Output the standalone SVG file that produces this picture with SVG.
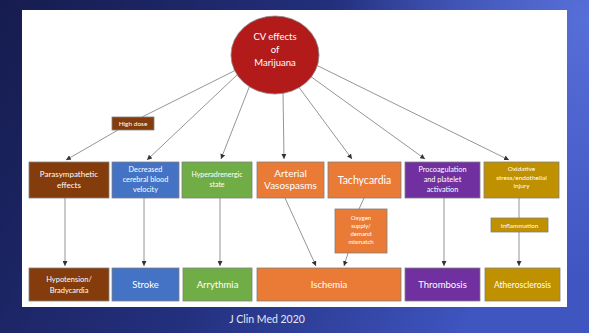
<svg xmlns="http://www.w3.org/2000/svg" width="589" height="333" viewBox="0 0 589 333">
<defs>
<linearGradient id="bg" x1="0" y1="0" x2="1" y2="0.3">
<stop offset="0" stop-color="#161c4e"/>
<stop offset="0.55" stop-color="#23307e"/>
<stop offset="1" stop-color="#3f55c0"/>
</linearGradient>
<radialGradient id="glow" cx="589" cy="20" r="260" gradientUnits="userSpaceOnUse">
<stop offset="0" stop-color="#5a72dc" stop-opacity="0.9"/>
<stop offset="1" stop-color="#5a72dc" stop-opacity="0"/>
</radialGradient>
<marker id="ah" viewBox="0 0 6 6" refX="6" refY="3" markerWidth="5" markerHeight="5" orient="auto" markerUnits="userSpaceOnUse">
<path d="M0,0 L6,3 L0,6 z" fill="#333"/>
</marker>
<style>
.box{stroke:#808080;stroke-width:0.8}
.br{fill:#843c0c}.bl{fill:#4472c4}.gr{fill:#70ad47}.or{fill:#e97b36}.pu{fill:#7030a0}.go{fill:#bf9000}
text{font-family:Lato,"Liberation Sans",sans-serif;fill:#fff;text-anchor:middle}
.c line{stroke:#7a7a7a;stroke-width:0.8}
.c .a{marker-end:url(#ah)}
</style>
</defs>
<rect width="589" height="333" fill="url(#bg)"/>
<rect width="589" height="333" fill="url(#glow)"/>
<rect x="22" y="10" width="545" height="297" fill="#fff"/>

<g id="connectors" class="c">
<line x1="236" y1="70" x2="142" y2="117"/>
<line class="a" x1="118" y1="130" x2="66" y2="160"/>
<line class="a" x1="238" y1="74" x2="147" y2="160"/>
<line class="a" x1="250" y1="85" x2="221" y2="159"/>
<line class="a" x1="283" y1="92" x2="284" y2="159"/>
<line class="a" x1="298" y1="86" x2="352" y2="159"/>
<line class="a" x1="310" y1="76" x2="425" y2="159"/>
<line class="a" x1="314" y1="64" x2="509" y2="160"/>
<line class="a" x1="65" y1="198" x2="65" y2="266"/>
<line class="a" x1="144" y1="198" x2="144" y2="266"/>
<line class="a" x1="220" y1="198" x2="220" y2="266"/>
<line class="a" x1="285" y1="198" x2="316" y2="266"/>
<line x1="364" y1="198" x2="359" y2="209"/>
<line class="a" x1="348" y1="253" x2="344" y2="266"/>
<line class="a" x1="444" y1="198" x2="444" y2="266"/>
<line x1="519" y1="198" x2="519" y2="218"/>
<line class="a" x1="519" y1="232" x2="519" y2="266"/>
</g>

<g id="cv">
<ellipse cx="275" cy="55" rx="44" ry="39" fill="#b31b1b" stroke="#888" stroke-width="0.8"/>
<text font-size="9.5" x="275" y="40">CV effects</text>
<text font-size="9.5" x="275" y="53">of</text>
<text font-size="9.5" x="275" y="66">Marijuana</text>
</g>

<g id="highdose">
<rect class="box br" x="112" y="117" width="42" height="13"/>
<text font-size="6.5" x="133" y="126">High dose</text>
</g>

<g id="para">
<rect class="box br" x="29" y="162" width="80" height="36"/>
<text font-size="8" x="69" y="177">Parasympathetic</text>
<text font-size="8" x="69" y="188">effects</text>
</g>
<g id="decr">
<rect class="box bl" x="112" y="162" width="67" height="36"/>
<text font-size="7.3" x="145.5" y="172">Decreased</text>
<text font-size="7.3" x="145.5" y="182">cerebral blood</text>
<text font-size="7.3" x="145.5" y="192">velocity</text>
</g>
<g id="hyper">
<rect class="box gr" x="182" y="162" width="70" height="36"/>
<text font-size="7" x="217" y="177">Hyperadrenergic</text>
<text font-size="7" x="217" y="187">state</text>
</g>
<g id="arter">
<rect class="box or" x="257" y="162" width="67" height="36"/>
<text font-size="10" x="290.5" y="177">Arterial</text>
<text font-size="10" x="290.5" y="189">Vasospasms</text>
</g>
<g id="tachy">
<rect class="box or" x="328" y="162" width="73" height="36"/>
<text font-size="10.5" x="364.5" y="184">Tachycardia</text>
</g>
<g id="proco">
<rect class="box pu" x="405" y="162" width="75" height="36"/>
<text font-size="7.3" x="442.5" y="172">Procoagulation</text>
<text font-size="7.3" x="442.5" y="182">and platelet</text>
<text font-size="7.3" x="442.5" y="192">activation</text>
</g>
<g id="oxid">
<rect class="box go" x="484" y="162" width="75" height="36"/>
<text font-size="6.5" x="521.5" y="171">Oxidative</text>
<text font-size="6.5" x="521.5" y="179.5">stress/endothelial</text>
<text font-size="6.5" x="521.5" y="188">injury</text>
</g>

<g id="oxygen">
<rect class="box or" x="335" y="209" width="52" height="44"/>
<text font-size="6" x="361" y="220">Oxygen</text>
<text font-size="6" x="361" y="228">supply/</text>
<text font-size="6" x="361" y="236">demand</text>
<text font-size="6" x="361" y="244">mismatch</text>
</g>
<g id="inflam">
<rect class="box go" x="491" y="218" width="57" height="14"/>
<text font-size="6.5" x="519.5" y="227.5">Inflammation</text>
</g>

<g id="hypo">
<rect class="box br" x="29" y="268" width="80" height="33"/>
<text font-size="7.5" x="69" y="282">Hypotension/</text>
<text font-size="7.5" x="69" y="293">Bradycardia</text>
</g>
<g id="stroke">
<rect class="box bl" x="112" y="268" width="67" height="33"/>
<text font-size="9.5" x="145.5" y="288">Stroke</text>
</g>
<g id="arry">
<rect class="box gr" x="183" y="268" width="69" height="33"/>
<text font-size="9.5" x="217.5" y="288">Arrythmia</text>
</g>
<g id="isch">
<rect class="box or" x="257" y="268" width="144" height="33"/>
<text font-size="9.5" x="329" y="288">Ischemia</text>
</g>
<g id="thromb">
<rect class="box pu" x="405" y="268" width="75" height="33"/>
<text font-size="9.5" x="442.5" y="288">Thrombosis</text>
</g>
<g id="athero">
<rect class="box go" x="485" y="268" width="75" height="33"/>
<text font-size="8.5" x="522.5" y="288">Atherosclerosis</text>
</g>

<text font-size="10.5" x="267" y="323" fill="#e6e8f2" style="fill:#e6e8f2">J Clin Med 2020</text>
</svg>
